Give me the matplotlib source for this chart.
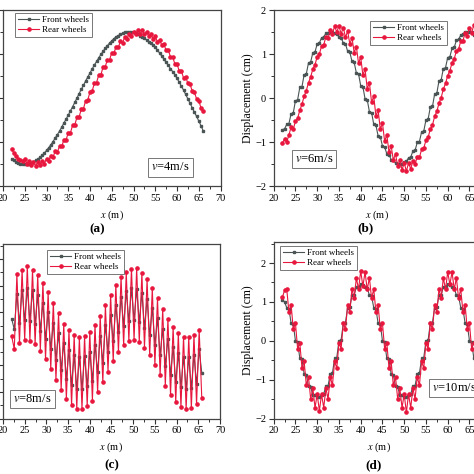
import numpy as np
import matplotlib.pyplot as plt
from matplotlib.ticker import MultipleLocator

plt.rcParams['font.family'] = ['Liberation Serif', 'DejaVu Serif']
plt.rcParams['mathtext.fontset'] = 'stix'

W = 474.0

# sample positions along the bridge (m)
x_half = np.arange(22, 66.25, 0.5)
x_c = np.arange(22, 66, 0.6)

# (a) v = 4 m/s
front_a = [-1.39, -1.42, -1.45, -1.47, -1.49, -1.50, -1.50, -1.50, -1.49, -1.47,
           -1.45, -1.42, -1.39, -1.35, -1.30, -1.25, -1.19, -1.13, -1.06, -0.99,
           -0.91, -0.83, -0.75, -0.66, -0.57, -0.48, -0.39, -0.29, -0.20, -0.10,
           0.00, 0.10, 0.20, 0.29, 0.39, 0.48, 0.57, 0.66, 0.75, 0.83,
           0.91, 0.99, 1.06, 1.13, 1.19, 1.25, 1.30, 1.35, 1.39, 1.42,
           1.45, 1.47, 1.49, 1.50, 1.50, 1.50, 1.49, 1.47, 1.45, 1.42,
           1.39, 1.36, 1.32, 1.28, 1.24, 1.20, 1.15, 1.09, 1.02, 0.95,
           0.88, 0.81, 0.74, 0.67, 0.60, 0.53, 0.45, 0.36, 0.27, 0.18,
           0.08, -0.02, -0.12, -0.22, -0.32, -0.42, -0.52, -0.63, -0.74]
rear_a = [-1.17, -1.25, -1.32, -1.38, -1.41, -1.43, -1.38, -1.49, -1.43, -1.53,
          -1.46, -1.54, -1.46, -1.53, -1.43, -1.49, -1.38, -1.43, -1.31, -1.34,
          -1.21, -1.23, -1.09, -1.10, -0.95, -0.95, -0.79, -0.79, -0.62, -0.61,
          -0.44, -0.43, -0.25, -0.24, -0.06, -0.04, 0.14, 0.16, 0.33, 0.35,
          0.52, 0.53, 0.70, 0.71, 0.87, 0.87, 1.03, 1.02, 1.17, 1.15,
          1.29, 1.26, 1.39, 1.35, 1.46, 1.41, 1.51, 1.45, 1.54, 1.46,
          1.54, 1.45, 1.51, 1.41, 1.46, 1.35, 1.40, 1.28, 1.32, 1.20,
          1.22, 1.08, 1.08, 0.94, 0.93, 0.78, 0.77, 0.62, 0.61, 0.46,
          0.48, 0.33, 0.31, 0.16, 0.13, -0.02, -0.06, -0.22, -0.30]

# (b) v = 6 m/s
front_b = [-0.72, -0.70, -0.60, -0.58, -0.36, -0.34, -0.06, -0.04, 0.24, 0.26,
           0.53, 0.55, 0.80, 0.82, 1.03, 1.05, 1.23, 1.25, 1.37, 1.39,
           1.47, 1.48, 1.50, 1.49, 1.47, 1.45, 1.39, 1.37, 1.25, 1.23,
           1.06, 1.04, 0.83, 0.81, 0.57, 0.55, 0.28, 0.26, -0.02, -0.04,
           -0.31, -0.33, -0.60, -0.62, -0.86, -0.88, -1.09, -1.11, -1.27, -1.29,
           -1.40, -1.42, -1.48, -1.49, -1.50, -1.49, -1.46, -1.44, -1.36, -1.34,
           -1.21, -1.19, -1.01, -0.99, -0.77, -0.75, -0.50, -0.48, -0.21, -0.19,
           0.09, 0.11, 0.39, 0.41, 0.67, 0.69, 0.92, 0.94, 1.13, 1.15,
           1.31, 1.33, 1.43, 1.45, 1.49, 1.50, 1.50, 1.49, 1.44]
rear_b = [-1.03, -0.93, -1.00, -0.84, -0.66, -0.71, -0.53, -0.46, -0.28, -0.14,
          0.04, 0.17, 0.35, 0.48, 0.66, 0.76, 0.94, 1.00, 1.18, 1.21,
          1.39, 1.36, 1.54, 1.46, 1.63, 1.50, 1.64, 1.46, 1.60, 1.38,
          1.52, 1.23, 1.37, 1.03, 1.17, 0.79, 0.93, 0.52, 0.66, 0.21,
          0.35, -0.10, 0.04, -0.41, -0.27, -0.71, -0.57, -0.98, -0.84, -1.22,
          -1.09, -1.41, -1.27, -1.55, -1.41, -1.63, -1.48, -1.66, -1.48, -1.61,
          -1.43, -1.51, -1.33, -1.35, -1.17, -1.14, -0.96, -0.89, -0.71, -0.61,
          -0.42, -0.30, -0.12, 0.01, 0.20, 0.33, 0.51, 0.62, 0.80, 0.89,
          1.07, 1.11, 1.29, 1.30, 1.48, 1.42, 1.60, 1.48, 1.66]

# (c) v = 8 m/s
front_c = [0.75, 0.36, 1.68, 0.58, 1.85, 0.69, 1.90, 0.68, 1.83, 0.55,
           1.64, 0.31, 1.36, -0.01, 1.00, -0.39, 0.61, -0.79, 0.21, -1.17,
           -0.14, -1.50, -0.43, -1.74, -0.62, -1.88, -0.70, -1.89, -0.65, -1.79,
           -0.49, -1.57, -0.22, -1.26, 0.12, -0.89, 0.51, -0.49, 0.91, -0.10,
           1.27, 0.24, 1.58, 0.50, 1.79, 0.66, 1.89, 0.70, 1.87, 0.62,
           1.73, 0.42, 1.49, 0.13, 1.16, -0.23, 0.78, -0.62, 0.38, -1.01,
           0.01, -1.36, -0.31, -1.64, -0.54, -1.82, -0.67, -1.90, -0.69, -1.86,
           -0.60, -1.71, -0.40, -1.28]
rear_c = [0.10, -0.39, 2.43, -0.17, 2.60, -0.06, 2.72, -0.07, 2.58, -0.20,
          2.39, -0.44, 2.11, -0.76, 1.75, -1.14, 1.36, -1.54, 0.96, -1.92,
          0.55, -2.25, 0.32, -2.49, 0.13, -2.63, 0.05, -2.64, 0.10, -2.54,
          0.26, -2.32, 0.53, -2.01, 0.87, -1.64, 1.26, -1.24, 1.66, -0.85,
          2.02, -0.51, 2.33, -0.25, 2.50, -0.09, 2.64, -0.05, 2.66, -0.13,
          2.48, -0.33, 2.24, -0.62, 1.91, -0.98, 1.53, -1.37, 1.13, -1.76,
          0.76, -2.11, 0.44, -2.39, 0.21, -2.57, 0.08, -2.65, 0.06, -2.61,
          0.15, -2.46, 0.35, -2.22]

# (d) v = 10 m/s
front_d = [1.05, 1.00, 0.85, 0.83, 0.45, 0.43, 0.00, -0.02, -0.45, -0.47,
           -0.85, -0.87, -1.17, -1.19, -1.38, -1.39, -1.45, -1.44, -1.38, -1.36,
           -1.17, -1.15, -0.85, -0.83, -0.45, -0.43, 0.00, 0.02, 0.45, 0.47,
           0.85, 0.87, 1.17, 1.19, 1.38, 1.39, 1.45, 1.44, 1.38, 1.36,
           1.17, 1.15, 0.85, 0.83, 0.45, 0.43, 0.00, -0.02, -0.45, -0.47,
           -0.85, -0.87, -1.17, -1.19, -1.38, -1.39, -1.45, -1.44, -1.38, -1.36,
           -1.17, -1.15, -0.85, -0.83, -0.45, -0.43, 0.00, 0.02, 0.45, 0.47,
           0.85, 0.87, 1.17, 1.19, 1.38, 1.39, 1.45, 1.44, 1.38, 1.36,
           1.17, 1.15, 0.85, 0.83, 0.45, 0.43, 0.00, -0.02, -0.45]
rear_d = [1.12, 1.30, 1.33, 0.74, 0.93, 0.30, 0.45, -0.20, -0.05, -0.70,
          -0.53, -1.14, -0.93, -1.49, -1.22, -1.72, -1.37, -1.80, -1.37, -1.72,
          -1.22, -1.49, -0.93, -1.14, -0.53, -0.70, -0.05, -0.20, 0.45, 0.30,
          0.93, 0.74, 1.33, 1.09, 1.62, 1.32, 1.80, 1.40, 1.77, 1.32,
          1.62, 1.09, 1.33, 0.74, 0.93, 0.30, 0.45, -0.20, -0.05, -0.70,
          -0.53, -1.14, -0.93, -1.49, -1.22, -1.72, -1.37, -1.84, -1.37, -1.72,
          -1.22, -1.49, -0.93, -1.14, -0.53, -0.70, -0.05, -0.20, 0.45, 0.30,
          0.93, 0.74, 1.33, 1.09, 1.62, 1.32, 1.77, 1.45, 1.77, 1.32,
          1.62, 1.09, 1.33, 0.74, 0.93, 0.30, 0.45, -0.20, -0.05]

speeds = ['4', '6', '8', '10']
c_front = '#4a5454'
c_rear = '#e8173e'


def px_axes(fig, left, top, right, bottom):
    return fig.add_axes([left / W, 1 - bottom / W, (right - left) / W, (bottom - top) / W])


def style(ax, ylim, ylabel):
    ax.set_xlim(20, 70)
    ax.set_ylim(*ylim)
    ax.xaxis.set_major_locator(MultipleLocator(5))
    ax.xaxis.set_minor_locator(MultipleLocator(2.5))
    ax.yaxis.set_major_locator(MultipleLocator(1))
    ax.yaxis.set_minor_locator(MultipleLocator(0.5))
    ax.tick_params(which='major', length=3.5, width=0.8, pad=2, labelsize=7.5, color='#333333')
    ax.tick_params(which='minor', length=2, width=0.7, color='#333333')
    for s in ax.spines.values():
        s.set_linewidth(0.9)
        s.set_color('#444444')
    if ylabel:
        ax.set_ylabel('Displacement (cm)', fontsize=8.5, labelpad=1)
    else:
        # the y labels of the left column fall outside the cropped picture
        ax.tick_params(axis='y', labelleft=False)


def draw(ax, x, fr, rr):
    n = min(len(x), len(fr), len(rr))
    ax.plot(x[:n], fr[:n], color=c_front, lw=0.8, marker='s', ms=2.0, label='Front wheels')
    ax.plot(x[:n], rr[:n], color=c_rear, lw=0.8, marker='o', ms=2.3, label='Rear wheels')


def legend(ax, fig, left, top):
    lg = ax.legend(loc='upper left', bbox_to_anchor=(left / W, 1 - top / W),
                   bbox_transform=fig.transFigure, borderaxespad=0, fontsize=6.5,
                   fancybox=False, framealpha=1, edgecolor='#777777', handlelength=2.4,
                   handletextpad=0.3, borderpad=0.3, labelspacing=0.2)
    lg.get_frame().set_linewidth(0.7)


def vbox(fig, x, y, s, ha='center'):
    fig.text(x / W, 1 - y / W, r'$v$=' + s + 'm/s', fontsize=9, ha=ha, va='center',
             bbox=dict(boxstyle='square,pad=0.25', fc='white', ec='#777777', lw=0.7))


fig = plt.figure(figsize=(4.74, 4.74), dpi=100)

ax_a = px_axes(fig, 3, 10, 220.5, 186)
draw(ax_a, x_half, front_a, rear_a)
style(ax_a, (-2, 2), False)
legend(ax_a, fig, 15, 13)
vbox(fig, 170.5, 167.5, speeds[0])

ax_b = px_axes(fig, 273.7, 10, 491.2, 186)
draw(ax_b, x_half, front_b, rear_b)
style(ax_b, (-2, 2), True)
legend(ax_b, fig, 370, 21)
vbox(fig, 314, 159, speeds[1])

ax_c = px_axes(fig, 3, 243.5, 220, 418.7)
draw(ax_c, x_c, front_c, rear_c)
style(ax_c, (-3, 3.58), False)
legend(ax_c, fig, 47, 250)
vbox(fig, 32.5, 399, speeds[2])

ax_d = px_axes(fig, 273.7, 242, 491.2, 418.7)
draw(ax_d, x_half, front_d, rear_d)
style(ax_d, (-2, 2.54), True)
legend(ax_d, fig, 280, 246)
vbox(fig, 432, 388, speeds[3], ha='left')

# axis labels and panel letters
for cx, cy in [(112, 215), (377, 215), (111, 447), (379, 447)]:
    fig.text(cx / W, 1 - cy / W, r'$x$ (m)', fontsize=7.5, ha='center', va='center')
for s, cx, cy in [('(a)', 97, 229), ('(b)', 365, 228), ('(c)', 112, 465), ('(d)', 374, 465)]:
    fig.text(cx / W, 1 - cy / W, s, fontsize=9.5, fontweight='bold', ha='center', va='center')

fig.savefig('out.png', dpi=100)
